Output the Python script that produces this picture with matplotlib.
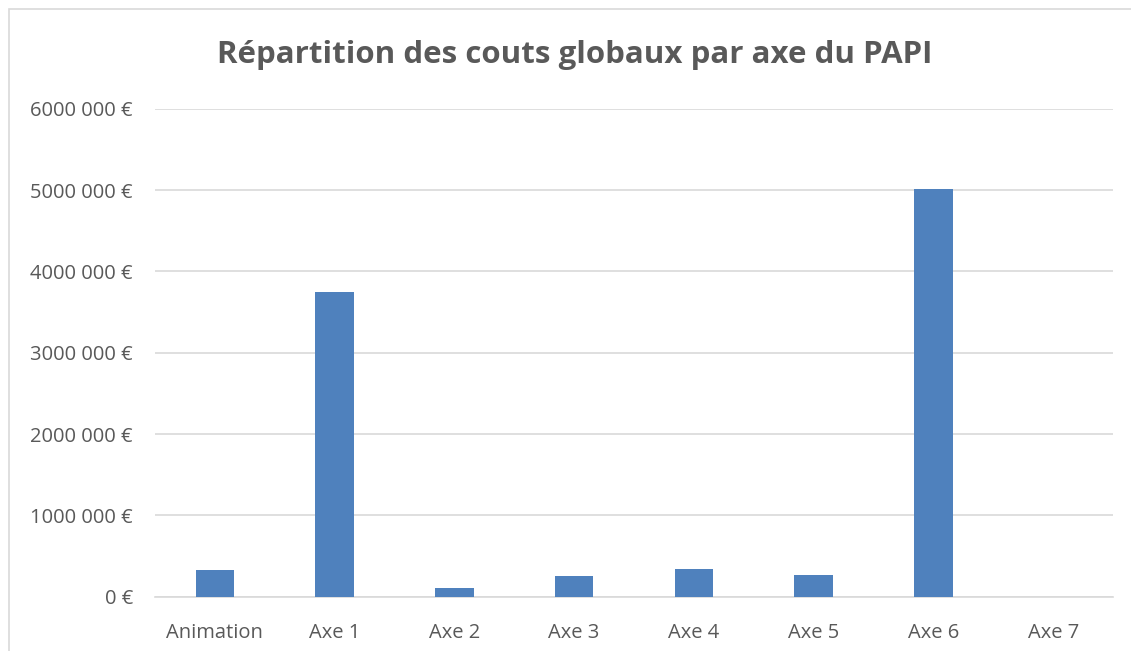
import matplotlib
matplotlib.use("Agg")
import matplotlib.pyplot as plt
from matplotlib.patches import Rectangle

categories = ["Animation", "Axe 1", "Axe 2", "Axe 3", "Axe 4", "Axe 5", "Axe 6", "Axe 7"]
costs = [325000, 3750000, 108000, 252000, 338000, 265000, 5015000, 0]
yticks = [0, 1000000, 2000000, 3000000, 4000000, 5000000, 6000000]
ytick_labels = ["0 €", "1000 000 €", "2000 000 €", "3000 000 €", "4000 000 €", "5000 000 €", "6000 000 €"]

plt.rcParams["font.family"] = ["Open Sans", "DejaVu Sans"]
text_color = "#595959"

fig = plt.figure(figsize=(11.31, 6.51), dpi=100)
ax = fig.add_axes([155 / 1131, 1 - 596.5 / 651, (1113 - 155) / 1131, (596.5 - 109) / 651])

# chart frame (cropped on right and bottom in the reference)
fig.patches.append(Rectangle((9 / 1131, -0.1), 1.2, 1.1 - 9 / 651, transform=fig.transFigure,
                             fill=False, edgecolor="#d9d9d9", linewidth=1.2))

x = range(len(categories))
ax.bar(x, costs, width=0.32, color="#4f81bd", zorder=3)

ax.set_xlim(-0.5, len(categories) - 0.5)
ax.set_ylim(0, 6000000)
ax.set_yticks(yticks)
ax.set_yticklabels(ytick_labels, fontsize=14.5, color=text_color)
ax.set_xticks(list(x))
ax.set_xticklabels(categories, fontsize=14.5, color=text_color)
ax.tick_params(length=0)
ax.tick_params(axis="y", pad=16)
ax.tick_params(axis="x", pad=19)
ax.grid(axis="y", color="#d9d9d9", linewidth=1.2, zorder=0)
for side in ["top", "right", "left"]:
    ax.spines[side].set_visible(False)
ax.spines["bottom"].set_color("#d9d9d9")
ax.spines["bottom"].set_linewidth(1.2)

fig.text(575 / 1131, 1 - 55 / 651, "Répartition des couts globaux par axe du PAPI",
         ha="center", va="center", fontsize=22.5, fontweight="bold", color=text_color)

fig.savefig("out.png", dpi=100)
